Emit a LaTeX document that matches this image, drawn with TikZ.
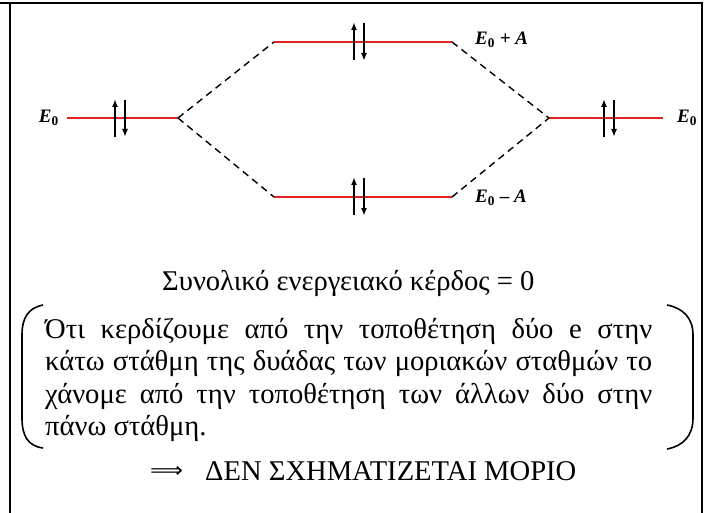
\documentclass[tikz,border=0pt]{standalone}
\usepackage{fontspec}
\setmainfont{Liberation Serif}
\newfontfamily\symfont{DejaVu Sans}
\usetikzlibrary{arrows.meta}
\definecolor{lvlred}{RGB}{228,32,32}
\tikzset{
  frameline/.style={line width=2pt,black},
  level/.style={line width=2pt,lvlred},
  conn/.style={line width=1.4pt,black,dash pattern=on 7pt off 5pt},
  spin/.style={line width=1.8pt,-{Latex[length=8pt,width=6pt]}},
  elabel/.style={font=\fontsize{19}{21}\selectfont\bfseries\itshape,inner sep=0pt},
  txt/.style={font=\fontsize{28.6}{32.5}\selectfont,inner sep=0pt},
  brack/.style={line width=1.6pt,black}
}
\newcommand{\Ez}{E\textsubscript{\upshape 0}}
\begin{document}
\begin{tikzpicture}[x=1pt,y=-1pt]
\useasboundingbox (0,0) rectangle (709,513);
% frame
\draw[frameline] (0,3) -- (703,3);
\draw[frameline] (10,3) -- (10,513);
\draw[frameline] (702,3) -- (702,513);
% levels
\coordinate (LA) at (67,118); \coordinate (LB) at (178,118);
\coordinate (UA) at (274,42); \coordinate (UB) at (452,42);
\coordinate (DA) at (274,197); \coordinate (DB) at (452,197);
\coordinate (RA) at (549,118); \coordinate (RB) at (663,118);
\draw[level] (LA) -- (LB);
\draw[level] (UA) -- (UB);
\draw[level] (DA) -- (DB);
\draw[level] (RA) -- (RB);
\draw[conn] (LB) -- (UA);
\draw[conn] (LB) -- (DA);
\draw[conn] (UB) -- (RA);
\draw[conn] (DB) -- (RA);
% spins
\draw[spin] (115,137) -- (115,99);
\draw[spin] (125,100) -- (125,137);
\draw[spin] (354,60) -- (354,22);
\draw[spin] (364,23) -- (364,61);
\draw[spin] (354,215) -- (354,177);
\draw[spin] (364,178) -- (364,216);
\draw[spin] (604,137) -- (604,99);
\draw[spin] (614,100) -- (614,137);
% labels
\node[elabel,anchor=east] (e1) at (59,118) {\Ez};
\node[elabel,anchor=west] (e2) at (677,118) {\Ez};
\node[elabel,anchor=west] (e3) at (475,40) {\Ez\ + A};
\node[elabel,anchor=west] (e4) at (475,198) {\Ez\ {\upshape\bfseries\textendash} A};
% texts
\node[txt,anchor=base west] (title) at (162,290) {Συνολικό ενεργειακό κέρδος = 0};
\node[txt,anchor=base west] (par) at (45,338) {\parbox[t]{607pt}{\fontsize{28.6}{32.5}\selectfont
Ότι κερδίζουμε από την τοποθέτηση δύο e στην\linebreak
κάτω στάθμη της δυάδας των μοριακών σταθμών το\linebreak
χάνομε από την τοποθέτηση των άλλων δύο στην\linebreak
πάνω στάθμη.}};
\draw[brack] (43,305) .. controls (28,308) and (22,318) .. (22,335) -- (22,418) .. controls (22,436) and (28,446) .. (43,448);
\draw[brack] (667,305) .. controls (683,308) and (693,318) .. (693,335) -- (693,418) .. controls (693,436) and (683,446) .. (667,449);
\node[inner sep=0pt,anchor=west] (implies) at (150,472) {\resizebox{33pt}{11pt}{\symfont ⟹}};
\node[txt,anchor=base west] (concl) at (205,480) {ΔΕΝ ΣΧΗΜΑΤΙΖΕΤΑΙ ΜΟΡΙΟ};
\end{tikzpicture}
\end{document}
